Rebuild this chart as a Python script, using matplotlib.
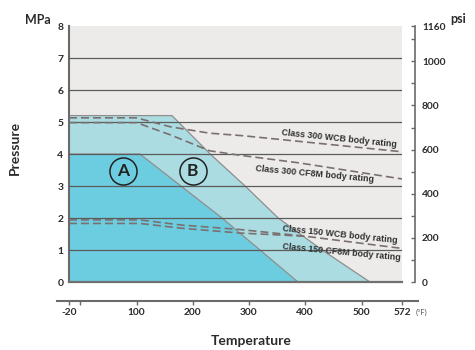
import matplotlib
matplotlib.use("Agg")
import matplotlib.pyplot as plt
from matplotlib.ticker import FixedLocator

# ---------------- data ----------------
temp_ticks = [-20, 0, 100, 200, 300, 400, 500, 572]
temp_tick_labels = ['-20', '', '100', '200', '300', '400', '500', '572']
mpa_ticks = [0, 1, 2, 3, 4, 5, 6, 7, 8]
psi_major = [0, 200, 400, 600, 800, 1000, 1160]
psi_minor = [100, 300, 500, 700, 900, 1100]

regionA_temp = [-20, 106, 252, 387]
regionA_press = [4.0, 4.0, 2.0, 0.0]
regionB_temp = [-20, 163, 231, 293, 352, 430, 515]
regionB_press = [5.2, 5.2, 4.0, 3.0, 2.0, 1.0, 0.0]

c300_wcb_temp = [-20, 100, 160, 230, 290, 572]
c300_wcb_press = [5.13, 5.13, 4.85, 4.65, 4.57, 4.07]
c300_cf8m_temp = [-20, 100, 160, 230, 280, 390, 572]
c300_cf8m_press = [4.98, 4.98, 4.60, 4.10, 3.97, 3.72, 3.22]
c150_wcb_temp = [-20, 106, 180, 284, 400, 572]
c150_wcb_press = [1.94, 1.94, 1.78, 1.64, 1.43, 1.05]
c150_cf8m_temp = [-20, 106, 180, 284, 400]
c150_cf8m_press = [1.83, 1.83, 1.68, 1.53, 1.43]

labels = ['Class 300 WCB body rating', 'Class 300 CF8M body rating',
          'Class 150 WCB body rating', 'Class 150 CF8M body rating']
label_x = [460, 417, 462, 464]
label_y = [4.47, 3.36, 1.47, 0.94]
label_rot = [-6, -5.3, -6, -5.5]

zone_names = ['A', 'B']
zone_x = [75.5, 200]
zone_y = [3.47, 3.47]

# ---------------- style ----------------
FONT = ['Lato', 'DejaVu Sans']
TXT = '#2b2b2b'
BG = '#ecebe9'
COL_A = '#6dcde0'
COL_B = '#aadce2'
EDGE = '#8e8e8e'
GRID = '#5c5c5c'
DASH = '#7b7070'

W, H = 475, 350
fig = plt.figure(figsize=(W / 100, H / 100), dpi=100)

def fx(px):
    return px / W

def fy(py):
    return 1 - py / H

ax = fig.add_axes([fx(69), fy(282), fx(402 - 69), (282 - 26) / H])
ax.set_xlim(-20, 572)
ax.set_ylim(0, 8)
ax.set_facecolor(BG)

ax.fill_between(regionB_temp, regionB_press, 0, color=COL_B, lw=0, zorder=1)
ax.fill_between(regionA_temp, regionA_press, 0, color=COL_A, lw=0, zorder=1.1)
ax.plot(regionB_temp, regionB_press, color=EDGE, lw=0.9, zorder=2)
ax.plot(regionA_temp, regionA_press, color=EDGE, lw=0.9, zorder=2)

for v in mpa_ticks[1:-1]:
    ax.axhline(v, color=GRID, lw=0.9, zorder=3)

for xs, ys in [(c300_wcb_temp, c300_wcb_press), (c300_cf8m_temp, c300_cf8m_press),
               (c150_wcb_temp, c150_wcb_press), (c150_cf8m_temp, c150_cf8m_press)]:
    ax.plot(xs, ys, color=DASH, lw=1.2, dashes=(4.8, 2.4), zorder=4)

for t, x, y, r in zip(labels, label_x, label_y, label_rot):
    ax.text(x, y, t, rotation=r, rotation_mode='anchor', ha='center', va='center',
            fontsize=6.4, fontweight='bold', color='#303030',
            family=['Liberation Sans', 'DejaVu Sans'], zorder=5)

for n, x, y in zip(zone_names, zone_x, zone_y):
    ax.plot([x], [y], marker='o', ms=19.5, mfc='none', mec='#222222', mew=1.1, zorder=5)
    ax.text(x, y, n, ha='center', va='center', fontsize=12.5, fontweight='bold',
            color='#222222', family=FONT, zorder=6)

for s in ['top', 'right']:
    ax.spines[s].set_visible(False)
ax.spines['left'].set_color('#6a6a6a')
ax.spines['left'].set_linewidth(1.5)
ax.spines['bottom'].set_color('#707070')
ax.spines['bottom'].set_linewidth(1.6)
ax.set_xticks([])
ax.set_yticks(mpa_ticks)
ax.set_yticklabels([str(v) for v in mpa_ticks])
ax.tick_params(axis='y', length=0, pad=4)
for lab in ax.get_yticklabels():
    lab.set_fontfamily(FONT)
    lab.set_fontweight('bold')
    lab.set_fontsize(7.5)
    lab.set_color(TXT)

# right psi axis
ax2 = ax.twinx()
ax2.set_ylim(0, 1160)
for s in ['top', 'left', 'bottom']:
    ax2.spines[s].set_visible(False)
ax2.spines['right'].set_position(('outward', 13 * 72 / 100))
ax2.spines['right'].set_color('#6a6a6a')
ax2.spines['right'].set_linewidth(1.2)
ax2.yaxis.set_major_locator(FixedLocator(psi_major))
ax2.yaxis.set_minor_locator(FixedLocator(psi_minor))
ax2.set_yticklabels([str(v) for v in psi_major])
ax2.tick_params(axis='y', which='both', direction='in', length=3, width=1,
                color='#6a6a6a', pad=5)
for lab in ax2.get_yticklabels():
    lab.set_fontfamily(FONT)
    lab.set_fontweight('bold')
    lab.set_fontsize(7.3)
    lab.set_color(TXT)

# separate temperature axis
x_left = -20 + (57 - 69) / 0.5625
x_right = -20 + (418 - 69) / 0.5625
axb = fig.add_axes([fx(57), fy(301), fx(418 - 57), 0.0001])
axb.set_xlim(x_left, x_right)
axb.set_yticks([])
axb.patch.set_visible(False)
for s in ['top', 'left', 'right']:
    axb.spines[s].set_visible(False)
axb.spines['bottom'].set_color('#6a6a6a')
axb.spines['bottom'].set_linewidth(1.5)
axb.set_xticks(temp_ticks)
axb.set_xticklabels(temp_tick_labels)
axb.tick_params(axis='x', direction='out', length=3, width=1, color='#6a6a6a', pad=2)
for lab in axb.get_xticklabels():
    lab.set_fontfamily(FONT)
    lab.set_fontweight('bold')
    lab.set_fontsize(7.3)
    lab.set_color(TXT)

fig.text(fx(421), fy(312), '(°F)', ha='center', va='center', fontsize=5.5,
         color='#555555', family=FONT)
fig.text(fx(38), fy(20), 'MPa', ha='center', va='center', fontsize=9,
         fontweight='bold', color=TXT, family=FONT)
fig.text(fx(458), fy(19), 'psi', ha='center', va='center', fontsize=9,
         fontweight='bold', color=TXT, family=FONT)
fig.text(fx(15), fy(148), 'Pressure', rotation=90, ha='center', va='center',
         fontsize=10, fontweight='bold', color=TXT, family=FONT)
fig.text(fx(251), fy(341), 'Temperature', ha='center', va='center',
         fontsize=10, fontweight='bold', color=TXT, family=FONT)

fig.savefig('out.png', dpi=100)
